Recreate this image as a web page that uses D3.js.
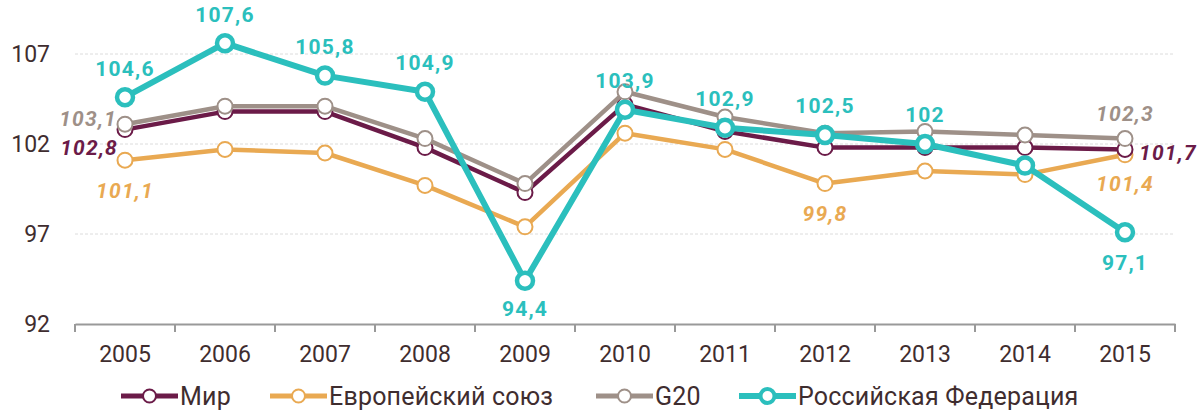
<!DOCTYPE html>
<html>
<head>
<meta charset="utf-8">
<script src="https://cdn.jsdelivr.net/npm/d3@7"></script>
<style>
  body { margin: 0; background: #fff; }
  svg text { font-family: Roboto, "Open Sans", sans-serif; }
</style>
</head>
<body>
<svg id="chart" width="1199" height="411"></svg>
<script>
 // data
 var years = ["2005","2006","2007","2008","2009","2010","2011","2012","2013","2014","2015"];
 var world  = [102.8, 103.8, 103.8, 101.8, 99.3, 104.2, 102.7, 101.8, 101.8, 101.8, 101.7];
 var eu     = [101.1, 101.7, 101.5, 99.7, 97.4, 102.6, 101.7, 99.8, 100.5, 100.3, 101.4];
 var g20    = [103.1, 104.1, 104.1, 102.3, 99.8, 104.9, 103.5, 102.6, 102.7, 102.5, 102.3];
 var russia = [104.6, 107.6, 105.8, 104.9, 94.4, 103.9, 102.9, 102.5, 102.0, 100.8, 97.1];
 var yTicks = [92, 97, 102, 107];

 var series = [
   {name: "Европейский союз", values: eu, color: "#e9a952", width: 4.5, r: 7.5, sw: 2},
   {name: "Мир", values: world, color: "#6b1b48", width: 4.5, r: 7.5, sw: 2},
   {name: "G20", values: g20, color: "#9e9088", width: 4.5, r: 7.5, sw: 2},
   {name: "Российская Федерация", values: russia, color: "#2bbfbd", width: 6, r: 8, sw: 4.5}
 ];
 var legendOrder = [1, 0, 2, 3];

 // which values get a label, and where: [series, index, dx, dy, anchor, italic]
 var labels = [
   [3, 0, 0, -29, "middle", false], [3, 1, 0, -29, "middle", false],
   [3, 2, 0, -29, "middle", false], [3, 3, 0, -29, "middle", false],
   [3, 4, 0, 28, "middle", false], [3, 5, 0, -29, "middle", false],
   [3, 6, 0, -29, "middle", false], [3, 7, 0, -29, "middle", false],
   [3, 8, 0, -29, "middle", false], [3, 10, 0, 30, "middle", false],
   [1, 0, -7, 18, "end", true], [1, 10, 14, 3, "start", true],
   [2, 0, -8, -6, "end", true], [2, 10, 0, -25, "middle", true],
   [0, 0, 0, 30, "middle", true], [0, 7, 0, 30, "middle", true],
   [0, 10, 0, 29, "middle", true]
 ];

 var svg = d3.select("#chart");
 var x = d3.scaleBand().domain(years).range([75, 1175]);
 var y = d3.scaleLinear().domain([92, 107]).range([324, 54]);
 var cx = function (i) { return x(years[i]) + x.bandwidth() / 2; };
 var fmt = function (v) { return String(v).replace(".", ","); };
 var textCol = "#3f2d2f";

 // grid
 svg.append("g").selectAll("line").data(yTicks.slice(1)).join("line")
    .attr("x1", 75).attr("x2", 1175)
    .attr("y1", d => y(d)).attr("y2", d => y(d))
    .attr("stroke", "#dcdcdc").attr("stroke-dasharray", "3,2");

 // y labels
 svg.append("g").selectAll("text").data(yTicks).join("text")
    .attr("x", 50).attr("y", d => y(d)).attr("dy", "0.35em")
    .attr("text-anchor", "end").attr("font-size", 23).attr("fill", textCol)
    .text(d => d);

 // x axis
 var gx = svg.append("g").attr("transform", "translate(0,324)")
    .call(d3.axisBottom(x).tickSize(0).tickPadding(22));
 gx.select(".domain").attr("stroke", "#999").attr("stroke-width", 2);
 gx.selectAll("text").attr("font-size", 23).attr("fill", textCol)
   .style("font-family", "Roboto, sans-serif");
 gx.append("g").selectAll("line").data(years.concat(["end"])).join("line")
   .attr("x1", (d, i) => 75 + i * x.bandwidth()).attr("x2", (d, i) => 75 + i * x.bandwidth())
   .attr("y1", 0).attr("y2", 8).attr("stroke", "#999").attr("stroke-width", 2);

 var line = d3.line().x((d, i) => cx(i)).y(d => y(d));

 series.forEach(function (s) {
   var g = svg.append("g");
   g.append("path").datum(s.values).attr("d", line)
    .attr("fill", "none").attr("stroke", s.color).attr("stroke-width", s.width)
    .attr("stroke-linejoin", "round");
   g.selectAll("circle").data(s.values).join("circle")
    .attr("cx", (d, i) => cx(i)).attr("cy", d => y(d)).attr("r", s.r)
    .attr("fill", "#fff").attr("stroke", s.color).attr("stroke-width", s.sw);
 });

 svg.append("g").selectAll("text").data(labels).join("text")
    .attr("x", d => cx(d[1]) + d[2])
    .attr("y", d => y(series[d[0]].values[d[1]]) + d[3])
    .attr("dy", "0.35em").attr("text-anchor", d => d[4])
    .attr("font-size", 21).attr("font-weight", 700)
    .attr("font-style", d => d[5] ? "italic" : "normal")
    .attr("letter-spacing", 1.2)
    .attr("fill", d => series[d[0]].color)
    .text(d => fmt(series[d[0]].values[d[1]]));

 // legend
 var legX = [121, 270, 596, 739];
 var lg = svg.append("g").attr("transform", "translate(0,396)");
 legendOrder.forEach(function (si, k) {
   var s = series[si];
   var item = lg.append("g").attr("transform", "translate(" + legX[k] + ",0)");
   item.append("line").attr("x1", 0).attr("x2", 57)
       .attr("stroke", s.color).attr("stroke-width", si == 3 ? 6 : 5);
   item.append("circle").attr("cx", 28.5).attr("r", si == 3 ? 7 : 6.5)
       .attr("fill", "#fff").attr("stroke", s.color).attr("stroke-width", si == 3 ? 4 : 2);
   item.append("text").attr("x", 59).attr("dy", "0.37em")
       .attr("font-size", 25).attr("letter-spacing", 0.2)
       .attr("fill", textCol).text(s.name);
 });
</script>
</body>
</html>
